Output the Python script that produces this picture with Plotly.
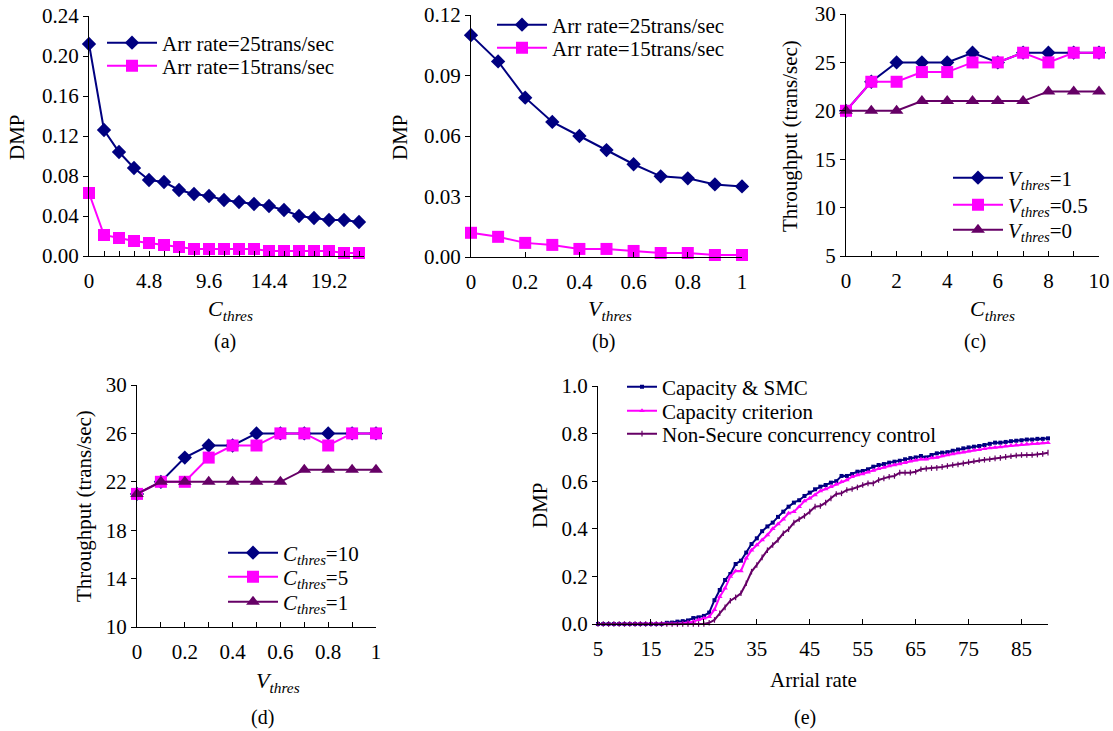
import plotly.graph_objects as go

W, H = 1113, 731
FONT = "Liberation Serif"
NAVY = "#000080"
MAG = "#FF00FF"
PUR = "#660066"

# ---------- data ----------
a_x = [0, 1.2, 2.4, 3.6, 4.8, 6.0, 7.2, 8.4, 9.6, 10.8, 12.0, 13.2, 14.4, 15.6, 16.8, 18.0, 19.2, 20.4, 21.6]
a_25 = [0.212, 0.126, 0.104, 0.088, 0.076, 0.074, 0.066, 0.062, 0.060, 0.056, 0.054, 0.052, 0.050, 0.046, 0.040, 0.038, 0.036, 0.036, 0.034]
a_15 = [0.063, 0.021, 0.018, 0.015, 0.013, 0.011, 0.009, 0.007, 0.007, 0.007, 0.007, 0.007, 0.005, 0.005, 0.005, 0.005, 0.005, 0.003, 0.003]

b_x = [0, 0.1, 0.2, 0.3, 0.4, 0.5, 0.6, 0.7, 0.8, 0.9, 1.0]
b_25 = [0.110, 0.097, 0.079, 0.067, 0.060, 0.053, 0.046, 0.040, 0.039, 0.036, 0.035]
b_15 = [0.012, 0.010, 0.007, 0.006, 0.004, 0.004, 0.003, 0.002, 0.002, 0.001, 0.001]

c_x = [0, 1, 2, 3, 4, 5, 6, 7, 8, 9, 10]
c_v1 = [20, 23, 25, 25, 25, 26, 25, 26, 26, 26, 26]
c_v05 = [20, 23, 23, 24, 24, 25, 25, 26, 25, 26, 26]
c_v0 = [20, 20, 20, 21, 21, 21, 21, 21, 22, 22, 22]

d_x = [0, 0.1, 0.2, 0.3, 0.4, 0.5, 0.6, 0.7, 0.8, 0.9, 1.0]
d_c10 = [21, 22, 24, 25, 25, 26, 26, 26, 26, 26, 26]
d_c5 = [21, 22, 22, 24, 25, 25, 26, 26, 25, 26, 26]
d_c1 = [21, 22, 22, 22, 22, 22, 22, 23, 23, 23, 23]

e_x = list(range(5, 91))
e_smc = [0.0] * 13 + [
    0.005, 0.006, 0.010, 0.012, 0.015, 0.025, 0.028, 0.034, 0.048, 0.100,
    0.143, 0.185, 0.210, 0.252, 0.266, 0.300, 0.336, 0.360, 0.390, 0.410,
    0.426, 0.450, 0.472, 0.493, 0.510, 0.520, 0.538, 0.552, 0.566, 0.577,
    0.584, 0.594, 0.600, 0.622, 0.622, 0.630, 0.640, 0.643, 0.650, 0.661,
    0.668, 0.672, 0.678, 0.682, 0.686, 0.692, 0.697, 0.700, 0.706, 0.700,
    0.710, 0.717, 0.720, 0.722, 0.728, 0.733, 0.738, 0.742, 0.745, 0.748,
    0.752, 0.757, 0.762, 0.762, 0.765, 0.768, 0.770, 0.772, 0.775, 0.775,
    0.778, 0.778, 0.780]
e_cap = [0.0] * 16 + [
    0.003, 0.006, 0.010, 0.018, 0.024, 0.030, 0.060, 0.115, 0.150, 0.200,
    0.223, 0.223, 0.276, 0.310, 0.332, 0.353, 0.374, 0.400, 0.420, 0.440,
    0.465, 0.472, 0.493, 0.517, 0.528, 0.542, 0.559, 0.567, 0.577, 0.587,
    0.598, 0.605, 0.619, 0.626, 0.630, 0.638, 0.645, 0.652, 0.658, 0.664,
    0.668, 0.672, 0.678, 0.684, 0.688, 0.692, 0.692, 0.698, 0.700, 0.706,
    0.710, 0.714, 0.718, 0.722, 0.726, 0.730, 0.732, 0.736, 0.740, 0.742,
    0.744, 0.748, 0.750, 0.752, 0.754, 0.756, 0.758, 0.758, 0.760, 0.762]
e_non = [0.0] * 21 + [
    0.005, 0.017, 0.045, 0.070, 0.098, 0.112, 0.129, 0.171, 0.220, 0.248,
    0.280, 0.310, 0.332, 0.353, 0.381, 0.398, 0.426, 0.440, 0.454, 0.472,
    0.493, 0.496, 0.510, 0.528, 0.546, 0.549, 0.563, 0.567, 0.574, 0.584,
    0.591, 0.591, 0.605, 0.612, 0.619, 0.622, 0.636, 0.636, 0.636, 0.640,
    0.650, 0.653, 0.655, 0.656, 0.660, 0.664, 0.668, 0.670, 0.675, 0.680,
    0.684, 0.688, 0.690, 0.692, 0.696, 0.698, 0.702, 0.705, 0.708, 0.710,
    0.710, 0.710, 0.712, 0.715, 0.720]

# ---------- figure ----------
fig = go.Figure()


def px_x(p):
    return p / W


def px_y(p):
    return 1 - p / H


legends = {}
TF = 21


def add(x, y, name, color, symbol, size, xa, ya, leg, lx, ly, iw=50, lw=2, mline=None):
    marker = dict(symbol=symbol, size=size, color=color)
    if mline:
        marker["line"] = dict(color=color, width=mline)
    fig.add_trace(go.Scatter(
        x=x, y=y, name=name, mode="lines+markers",
        line=dict(color=color, width=lw), marker=marker,
        xaxis=xa, yaxis=ya, legend=leg, cliponaxis=False))
    legends[leg] = dict(x=px_x(lx), y=px_y(ly), xanchor="left", yanchor="middle",
                        bgcolor="rgba(0,0,0,0)", font=dict(family=FONT, size=TF, color="black"),
                        itemwidth=iw)


CT = "<i>C<sub>thres</sub></i>"
VT = "<i>V<sub>thres</sub></i>"

add(a_x, a_25, "Arr rate=25trans/sec", NAVY, "diamond", 11, "x", "y", "legend", 102, 43)
add(a_x, a_15, "Arr rate=15trans/sec", MAG, "square", 12, "x", "y", "legend2", 102, 66)
add(b_x, b_25, "Arr rate=25trans/sec", NAVY, "diamond", 11, "x2", "y2", "legend3", 492, 25)
add(b_x, b_15, "Arr rate=15trans/sec", MAG, "square", 12, "x2", "y2", "legend4", 492, 48)
add(c_x, c_v1, VT + "=1", NAVY, "diamond", 11, "x3", "y3", "legend5", 948, 178)
add(c_x, c_v05, VT + "=0.5", MAG, "square", 12, "x3", "y3", "legend6", 948, 205)
add(c_x, c_v0, VT + "=0", PUR, "triangle-up", 12, "x3", "y3", "legend7", 948, 230)
add(d_x, d_c10, CT + "=10", NAVY, "diamond", 11, "x4", "y4", "legend8", 223, 553)
add(d_x, d_c5, CT + "=5", MAG, "square", 12, "x4", "y4", "legend9", 223, 577)
add(d_x, d_c1, CT + "=1", PUR, "triangle-up", 12, "x4", "y4", "legend10", 223, 602)
add(e_x, e_smc, "Capacity & SMC", NAVY, "square", 4, "x5", "y5", "legend11", 622, 387, iw=30)
add(e_x, e_cap, "Capacity criterion", MAG, "triangle-up", 5, "x5", "y5", "legend12", 622, 411, iw=30)
add(e_x, e_non, "Non-Secure concurrency control", PUR, "line-ns-open", 4, "x5", "y5", "legend13", 622, 434,
    iw=30, mline=1.2)

tickfont = dict(family=FONT, size=TF, color="black")


def xax(l, r, rng, dtick, anchor, minor=None, tickformat=None):
    d = dict(domain=[px_x(l), px_x(r)], range=rng, anchor=anchor, dtick=dtick,
             tick0=5 if rng[0] == 5 else 0,
             showline=True, linecolor="black", linewidth=1, showgrid=False, zeroline=False,
             ticks="inside", ticklen=5, tickcolor="black", tickwidth=1, tickfont=tickfont,
             ticklabelstandoff=6, fixedrange=True)
    if minor:
        d["minor"] = dict(dtick=minor, ticks="inside", ticklen=5, tickcolor="black", tickwidth=1, showgrid=False)
    if tickformat:
        d["tickformat"] = tickformat
    return d


def yax(t, b, rng, dtick, anchor, tickformat=None):
    d = dict(domain=[px_y(b), px_y(t)], range=rng, anchor=anchor, dtick=dtick, tick0=rng[0],
             showline=True, linecolor="black", linewidth=1, showgrid=False, zeroline=False,
             ticks="outside", ticklen=5, tickcolor="black", tickwidth=1, tickfont=tickfont,
             fixedrange=True)
    if tickformat:
        d["tickformat"] = tickformat
    return d


fig.update_layout(
    width=W, height=H, margin=dict(l=0, r=0, t=0, b=0, autoexpand=False),
    paper_bgcolor="white", plot_bgcolor="white",
    font=dict(family=FONT, size=TF, color="black"),
    showlegend=True,
    xaxis=xax(89, 364, [0, 22], 4.8, "y", minor=1.2),
    yaxis=yax(16, 256, [0, 0.24], 0.04, "x", ".2f"),
    xaxis2=xax(471, 742, [0, 1], 0.2, "y2"),
    yaxis2=yax(15, 257, [0, 0.12], 0.03, "x2", ".2f"),
    xaxis3=xax(846, 1099, [0, 10], 2, "y3", minor=1),
    yaxis3=yax(14, 256, [5, 30], 5, "x3"),
    xaxis4=xax(137, 376, [0, 1], 0.2, "y4", minor=0.1),
    yaxis4=yax(385, 627, [10, 30], 4, "x4"),
    xaxis5=xax(598, 1048, [5, 90], 10, "y5"),
    yaxis5=yax(386, 624, [0, 1.0], 0.2, "x5", ".1f"),
    **legends,
)

ann = []


def text(s, x, y, angle=0, size=TF):
    ann.append(dict(text=s, x=px_x(x), y=px_y(y), xref="paper", yref="paper", showarrow=False,
                    xanchor="center", yanchor="middle", textangle=angle,
                    font=dict(family=FONT, size=size, color="black")))


text(CT, 230, 310, size=22)
text(VT, 610, 310, size=22)
text(CT, 992, 310, size=22)
text(VT, 278, 682, size=22)
text("Arrial rate", 813, 680)
text("DMP", 17, 137, -90)
text("DMP", 400, 137, -90)
text("Throughput (trans/sec)", 790, 136, -90)
text("Throughput (trans/sec)", 84, 506, -90)
text("DMP", 540, 505, -90)
text("(a)", 225, 341, size=20)
text("(b)", 603, 341, size=20)
text("(c)", 975, 341, size=20)
text("(d)", 262, 717, size=20)
text("(e)", 805, 717, size=20)
fig.update_layout(annotations=ann)

fig.write_html("out.html", config={"displayModeBar": False},
               post_script="document.body.style.margin='0';document.body.style.overflow='hidden';")
